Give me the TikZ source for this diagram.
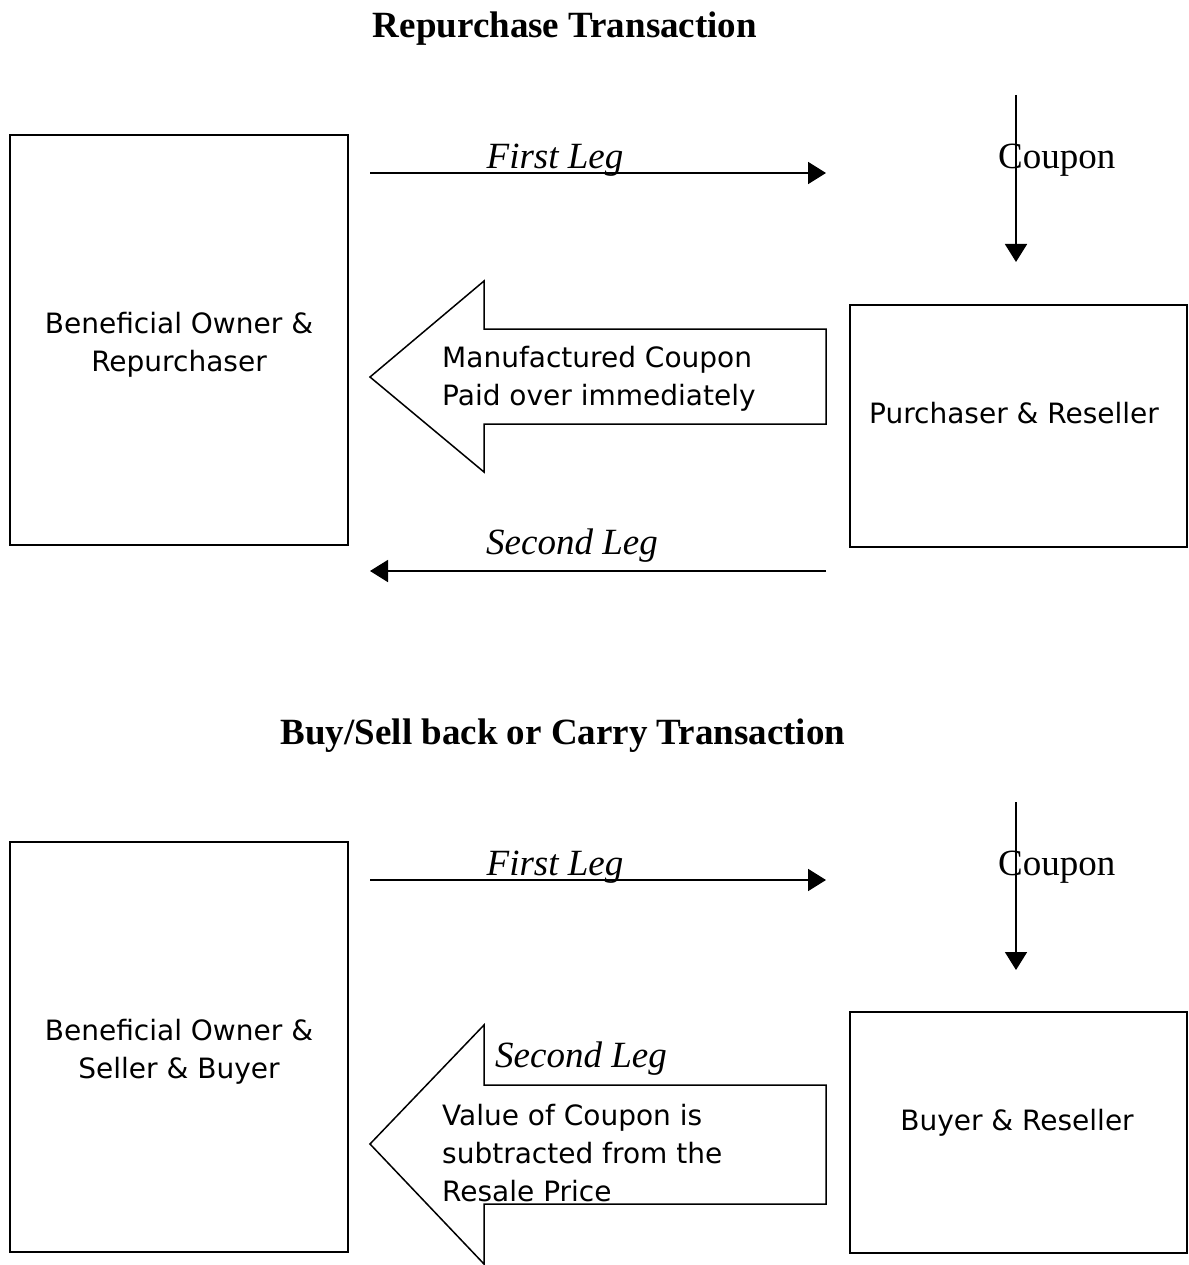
\documentclass[tikz,border=0pt]{standalone}
\usepackage{fontspec}
\setmainfont{Liberation Serif}
\setsansfont{DejaVu Sans}
\usetikzlibrary{arrows.meta}
\begin{document}
\begin{tikzpicture}[x=1pt,y=-1pt,
  party/.style={draw,line width=1.6pt,inner sep=0pt},
  flow/.style={line width=1.8pt,-{Triangle[length=18pt,width=22pt]}},
  bigarrow/.style={draw,line width=1.5pt,line join=miter},
  sanstxt/.style={font=\fontsize{28}{38}\selectfont\sffamily,inner sep=0pt},
  legtxt/.style={font=\fontsize{37}{44}\selectfont\itshape,inner sep=0pt},
  coupontxt/.style={font=\fontsize{37}{44}\selectfont,inner sep=0pt},
  titletxt/.style={font=\fontsize{37}{44}\selectfont\bfseries,inner sep=0pt}]
\useasboundingbox (0,0) rectangle (1188,1265);

% ---------- Top diagram ----------
\node[titletxt] (t1) at (565,29) {Repurchase Transaction};

\node[party,minimum width=338pt,minimum height=410pt] (bo1) at (179,340) {};
\node[sanstxt,align=center] (bo1t) at (179,345) {Beneficial Owner \&\\Repurchaser};

\node[party,minimum width=337pt,minimum height=242pt] (pr1) at (1018.5,426) {};
\node[sanstxt] (pr1t) at (1014,413) {Purchaser \& Reseller};

\coordinate (fl1s) at (370,173);
\coordinate (fl1e) at (826,173);
\draw[flow] (fl1s) -- (fl1e);
\node[legtxt] (fl1t) at (555,160) {First Leg};

\coordinate (cp1s) at (1016,95);
\coordinate (cp1e) at (1016,262);
\draw[flow] (cp1s) -- (cp1e);
\node[coupontxt,anchor=west] (cp1t) at (998,160) {Coupon};

\draw[bigarrow] (370,377) -- (484,281) -- (484,329) -- (826,329) -- (826,424)
  -- (484,424) -- (484,472) -- cycle;
\node[sanstxt,align=left,anchor=west] (mc1t) at (442,379) {Manufactured Coupon\\Paid over immediately};

\coordinate (sl1s) at (826,571);
\coordinate (sl1e) at (370,571);
\draw[flow] (sl1s) -- (sl1e);
\node[legtxt] (sl1t) at (572,546) {Second Leg};

% ---------- Bottom diagram ----------
\node[titletxt] (t2) at (563,736) {Buy/Sell back or Carry Transaction};

\node[party,minimum width=338pt,minimum height=410pt] (bo2) at (179,1047) {};
\node[sanstxt,align=center] (bo2t) at (179,1052) {Beneficial Owner \&\\Seller \& Buyer};

\node[party,minimum width=337pt,minimum height=241pt] (br2) at (1018.5,1132.5) {};
\node[sanstxt] (br2t) at (1017,1123) {Buyer \& Reseller};

\coordinate (fl2s) at (370,880);
\coordinate (fl2e) at (826,880);
\draw[flow] (fl2s) -- (fl2e);
\node[legtxt] (fl2t) at (555,867) {First Leg};

\coordinate (cp2s) at (1016,802);
\coordinate (cp2e) at (1016,970);
\draw[flow] (cp2s) -- (cp2e);
\node[coupontxt,anchor=west] (cp2t) at (998,867) {Coupon};

\draw[bigarrow] (370,1144) -- (484,1025) -- (484,1085) -- (826,1085) -- (826,1204)
  -- (484,1204) -- (484,1264) -- cycle;
\node[legtxt] (sl2t) at (581,1059) {Second Leg};
\node[sanstxt,align=left,anchor=west] (vc2t) at (442,1153) {Value of Coupon is\\subtracted from the\\Resale Price};
\end{tikzpicture}
\end{document}
